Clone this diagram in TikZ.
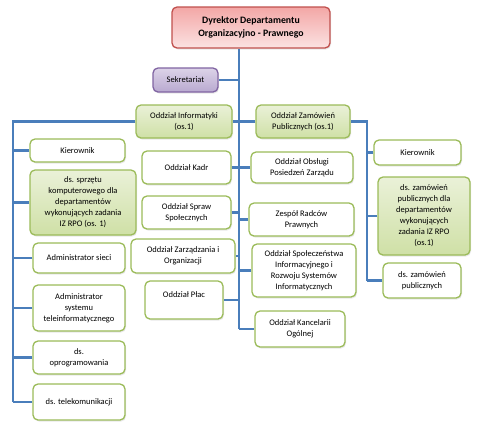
\documentclass[tikz,border=0pt]{standalone}
\usepackage{fontspec}
\setmainfont{Carlito}
\usepackage{tikz}
\usetikzlibrary{calc,shadows,backgrounds}
\definecolor{linkblue}{HTML}{4A7EBB}
\definecolor{olive}{HTML}{9BBB59}
\definecolor{olivelt}{HTML}{EAF1D8}
\definecolor{olivemd}{HTML}{CFE0A6}
\definecolor{dirred}{HTML}{C0504D}
\definecolor{dirtop}{HTML}{F3A7A6}
\definecolor{dirbot}{HTML}{FBE2E2}
\definecolor{plum}{HTML}{8064A2}
\definecolor{plumtop}{HTML}{DCD3E8}
\definecolor{plumbot}{HTML}{B9A9D0}

\begin{document}
\begin{tikzpicture}[x=1pt,y=-1pt,
  unit/.style={draw=olive,line width=1.3pt,rounded corners=5pt,fill=white,align=center,
    font=\fontsize{8.5}{11}\selectfont,inner sep=1pt,drop shadow={opacity=0.18,shadow xshift=1pt,shadow yshift=-1.5pt}},
  greenunit/.style={unit,top color=olivelt,bottom color=olivemd},
  link/.style={draw=linkblue,line width=2.2pt}]
  \useasboundingbox (0,0) rectangle (486,432);
  \coordinate (tk) at (239,0);
  \coordinate (lb) at (13,0);
  \coordinate (rb) at (367,0);

  \node[unit,draw=dirred,top color=dirtop,bottom color=dirbot,minimum width=158pt,minimum height=41pt,
    font=\fontsize{9.8}{13}\selectfont\bfseries] (dir) at (251,27.5) {Dyrektor Departamentu\\Organizacyjno - Prawnego};
  \node[unit,draw=plum,top color=plumtop,bottom color=plumbot,minimum width=65pt,minimum height=24pt] (sek) at (185.5,80) {Sekretariat};

  \node[greenunit,minimum width=96pt,minimum height=33pt] (info) at (184,121.5) {Oddział Informatyki\\(os.1)};
  \node[greenunit,minimum width=94pt,minimum height=33pt] (zam) at (303,121.5) {Oddział Zamówień\\Publicznych (os.1)};

  % informatyka
  \node[unit,minimum width=95pt,minimum height=23pt] (kierL) at (77.5,150.5) {Kierownik};
  \node[greenunit,minimum width=106pt,minimum height=65pt] (sprzet) at (83,202.5) {ds. sprzętu\\komputerowego dla\\departamentów\\wykonujących zadania\\IZ RPO (os. 1)};
  \node[unit,minimum width=92pt,minimum height=30pt] (sieci) at (79,258) {Administrator sieci};
  \node[unit,minimum width=92pt,minimum height=46pt] (teleinf) at (79,308) {Administrator\\systemu\\teleinformatycznego};
  \node[unit,minimum width=92pt,minimum height=33pt] (oprog) at (79,357.5) {ds.\\oprogramowania};
  \node[unit,minimum width=92pt,minimum height=36pt] (telekom) at (79,402) {ds. telekomunikacji};

  % oddzialy
  \node[unit,minimum width=89pt,minimum height=33pt] (kadr) at (186.5,167.5) {Oddział Kadr};
  \node[unit,minimum width=89pt,minimum height=33pt] (spraw) at (186.5,212.5) {Oddział Spraw\\Społecznych};
  \node[unit,minimum width=104pt,minimum height=34pt] (zarz) at (183,256) {Oddział Zarządzania i\\Organizacji};
  \node[unit,minimum width=78pt,minimum height=38pt] (plac) at (184,300) {Oddział Płac\\\mbox{}};
  \node[unit,minimum width=102pt,minimum height=31pt] (obsl) at (302,167.5) {Oddział Obsługi\\Posiedzeń Zarządu};
  \node[unit,minimum width=105pt,minimum height=33pt] (radcy) at (301.5,219.5) {Zespół Radców\\Prawnych};
  \node[unit,minimum width=104pt,minimum height=53pt] (spol) at (304,270.5) {Oddział Społeczeństwa\\Informacyjnego i\\Rozwoju Systemów\\Informatycznych};
  \node[unit,minimum width=90pt,minimum height=36pt] (kanc) at (300,329) {Oddział Kancelarii\\Ogólnej};

  % zamowienia
  \node[unit,minimum width=87pt,minimum height=25pt] (kierR) at (417.5,152.5) {Kierownik};
  \node[greenunit,minimum width=92pt,minimum height=78pt] (dszam) at (424,216) {ds. zamówień\\publicznych dla\\departamentów\\wykonujących\\zadania IZ RPO\\(os.1)};
  \node[unit,minimum width=78pt,minimum height=35pt] (dszam2) at (422,280.5) {ds. zamówień\\publicznych};

  \begin{scope}[on background layer]
  \draw[link] (dir.south -| tk) -- (kanc.west -| tk);
  \foreach \n in {sek,info,kadr,spraw,zarz,plac}
    \draw[link] (\n.east) -- (\n.east -| tk);
  \foreach \n in {zam,obsl,radcy,spol,kanc}
    \draw[link] (\n.west) -- (\n.west -| tk);
  \draw[link] (info.west) -- (info.west -| lb) -- (telekom.west -| lb);
  \foreach \n in {kierL,sprzet,sieci,teleinf,oprog,telekom}
    \draw[link] (\n.west) -- (\n.west -| lb);
  \draw[link] (zam.east) -- (zam.east -| rb) -- (dszam2.west -| rb);
  \foreach \n in {kierR,dszam,dszam2}
    \draw[link] (\n.west) -- (\n.west -| rb);
  \end{scope}
\end{tikzpicture}
\end{document}
